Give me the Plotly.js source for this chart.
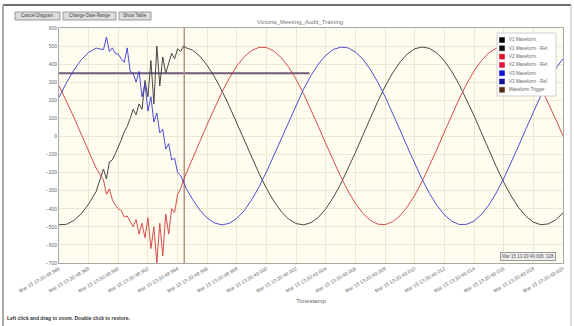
<!DOCTYPE html>
<html>
<head>
<meta charset="utf-8">
<script src="https://cdn.plot.ly/plotly-3.0.1.min.js"></script>
<style>html,body{margin:0;padding:0;background:#fff;}#chart{width:574px;height:326px;}</style>
</head>
<body>
<div id="chart"></div>
<script>
// time in ms after Mar 15 13:20:48.986
const timeMs = [0,0.5,1,1.5,2,2.5,
  3.0,3.2,3.4,3.6,3.8,4.0,4.2,4.4,4.6,4.8,5.0,5.2,5.4,5.6,5.8,6.0,6.2,6.4,6.6,6.8,7.0,7.2,7.4,7.6,7.8,8.0,8.2,8.4,8.6,
  9,9.5,10,10.5,11,11.5,12,12.5,13,13.5,14,14.5,15,15.5,16,16.5,17,17.5,18,18.5,19,19.5,20,20.5,21,21.5,22,22.5,23,23.5,24,24.5,25,25.5,26,26.5,27,27.5,28,28.5,29,29.5,30,30.5,31,31.5,32,32.5,33,33.5,34];
const v1Waveform = [-488,-486,-465,-428,-374,-306,
  -180,-235,-140,-130,-95,-60,-20,25,55,100,150,120,180,150,310,220,420,180,500,280,440,350,400,460,430,485,470,500,490,
  478,444,393,328,251,165,72,-23,-117,-206,-288,-359,-416,-458,-482,-489,-477,-447,-400,-338,-264,-179,-88,7,102,193,277,350,411,456,485,495,487,461,418,359,287,205,115,20,-75,-167,-253,-329,-393,-441,-474,-488,-484,-462,-423];
const v2Waveform = [281,198,107,12,-82,-174,
  -240,-320,-290,-350,-380,-400,-410,-445,-440,-470,-500,-460,-540,-480,-560,-450,-620,-500,-700,-480,-660,-430,-540,-400,-420,-320,-290,-240,-200,
  -122,-28,67,160,247,324,390,441,476,493,492,472,435,383,315,236,148,55,-40,-133,-222,-302,-371,-425,-464,-485,-488,-472,-439,-389,-325,-248,-162,-70,25,119,209,291,362,420,463,488,495,484,454,408,347,272,188,97,2];
const v3Waveform = [216,297,367,424,465,489,
  480,550,470,490,460,455,430,410,490,360,350,300,360,220,290,140,220,80,130,20,40,-70,-40,-130,-120,-200,-215,-250,-290,
  -347,-407,-452,-479,-489,-480,-453,-410,-350,-278,-195,-104,-10,84,176,262,337,401,449,481,494,490,467,427,371,301,220,131,37,-58,-151,-238,-316,-382,-434,-469,-487,-486,-468,-431,-379,-312,-233,-146,-53,42,136,225,305,374,430];
const triggerTime = [8.45, 8.45];
const triggerSpan = [-700, 600];
const thresholdTime = [0, 16.9];
const thresholdValue = [350, 350];

const tickMs = [0,2,4,6,8,10,12,14,16,18,20,22,24,26,28,30,32,34];
const tickLabels = ["Mar 15 13:20:48.986","Mar 15 13:20:48.988","Mar 15 13:20:48.990","Mar 15 13:20:48.992",
  "Mar 15 13:20:48.994","Mar 15 13:20:48.996","Mar 15 13:20:48.998","Mar 15 13:20:49.000","Mar 15 13:20:49.002",
  "Mar 15 13:20:49.004","Mar 15 13:20:49.006","Mar 15 13:20:49.008","Mar 15 13:20:49.010","Mar 15 13:20:49.012",
  "Mar 15 13:20:49.014","Mar 15 13:20:49.016","Mar 15 13:20:49.018","Mar 15 13:20:49.020"];
const legendNames = ["V1 Waveform","V1 Waveform - Ref.","V2 Waveform","V2 Waveform - Ref.","V3 Waveform","V3 Waveform - Ref.","Waveform Trigger"];
const legendColors = ["#000000","#111111","#e0102a","#e8103c","#1010d8","#10109a","#5a2a10"];
const buttonLabels = ["Cancel Diagram","Change Date Range","Show Table"];
const chartTitle = "Victoria_Meeting_Audit_Training";
const cursorText = "Mar 15 13:20:49.008, 328";

const font = "Liberation Sans, Arial, sans-serif";
const L = 59, R = 563, T = 28, B = 263;
const X = px => (px - L) / (R - L);
const Y = py => (B - py) / (B - T);

const traces = [
  {x: thresholdTime, y: thresholdValue, mode: 'lines', line: {color: '#6e5a78', width: 2}, showlegend: false, hoverinfo: 'skip'},
  {x: triggerTime, y: triggerSpan, mode: 'lines', line: {color: '#b8907e', width: 1.5}, showlegend: false},
  {x: timeMs, y: v1Waveform, mode: 'lines', line: {color: '#333333', width: 0.9}, name: legendNames[0], showlegend: false},
  {x: timeMs, y: v2Waveform, mode: 'lines', line: {color: '#d03a3a', width: 0.9}, name: legendNames[2], showlegend: false},
  {x: timeMs, y: v3Waveform, mode: 'lines', line: {color: '#3a3ad0', width: 0.9}, name: legendNames[4], showlegend: false}
];

const shapes = [];
const annotations = [];
// outer frame
shapes.push({type:'line', xref:'paper', yref:'paper', x0:X(3), x1:X(571), y0:Y(5), y1:Y(5), line:{color:'#707070', width:2}});
shapes.push({type:'line', xref:'paper', yref:'paper', x0:X(3), x1:X(3), y0:Y(5), y1:Y(326), line:{color:'#909090', width:1.5}});
shapes.push({type:'line', xref:'paper', yref:'paper', x0:X(571), x1:X(571), y0:Y(5), y1:Y(326), line:{color:'#c0c0c0', width:1}});
// buttons
const btn = [[15,60],[63,116],[119,151]];
buttonLabels.forEach((t, i) => {
  shapes.push({type:'rect', xref:'paper', yref:'paper', x0:X(btn[i][0]), x1:X(btn[i][1]), y0:Y(12), y1:Y(20),
    fillcolor:'#dcdcdc', line:{color:'#9a9a9a', width:1}});
  annotations.push({xref:'paper', yref:'paper', x:X((btn[i][0]+btn[i][1])/2), y:Y(16), text:t, showarrow:false,
    font:{family:font, size:4.5, color:'#444'}, xanchor:'center', yanchor:'middle'});
});
// legend
shapes.push({type:'rect', xref:'paper', yref:'paper', x0:X(497), x1:X(556), y0:Y(33), y1:Y(96),
  fillcolor:'#ffffff', line:{color:'#cfcfcf', width:1}});
legendNames.forEach((n, i) => {
  const cy = 40 + i * 8.3;
  shapes.push({type:'rect', xref:'paper', yref:'paper', x0:X(499.5), x1:X(504.5), y0:Y(cy-2.5), y1:Y(cy+2.5),
    fillcolor:legendColors[i], line:{color:legendColors[i], width:0.5}});
  annotations.push({xref:'paper', yref:'paper', x:X(507), y:Y(cy), text:n, showarrow:false,
    font:{family:font, size:4.5, color:'#666'}, xanchor:'left', yanchor:'middle'});
});
// cursor readout
annotations.push({xref:'paper', yref:'paper', x:X(556), y:Y(256), text:cursorText, showarrow:false,
  font:{family:font, size:4.5, color:'#555'}, xanchor:'right', yanchor:'middle',
  bgcolor:'#eeeeee', bordercolor:'#999', borderwidth:1, borderpad:1});
// help text
annotations.push({xref:'paper', yref:'paper', x:X(5), y:Y(318), text:'<b>Left click and drag to zoom. Double click to restore.</b>',
  showarrow:false, font:{family:font, size:5, color:'#333'}, xanchor:'left', yanchor:'middle'});

const layout = {
  width: 574, height: 326,
  margin: {l: L, r: 574 - R, t: T, b: 326 - B},
  paper_bgcolor: '#ffffff',
  plot_bgcolor: '#fffdf0',
  showlegend: false,
  title: {text: chartTitle, font: {family: font, size: 6, color: '#777'}, x: 300/574, xanchor: 'center', y: 1 - 22/326, yanchor: 'middle', yref: 'container'},
  xaxis: {
    range: [0, 34], tickvals: tickMs, ticktext: tickLabels, tickangle: -30,
    tickfont: {family: font, size: 5, color: '#666'},
    showgrid: true, gridcolor: '#ece7cf', gridwidth: 1, zeroline: false,
    showline: true, linecolor: '#a8a8a8', linewidth: 1, mirror: true, ticks: '',
    title: {text: 'Timestamp', font: {family: font, size: 6, color: '#666'}, standoff: 6}
  },
  yaxis: {
    range: [-700, 600], dtick: 100, tick0: 0,
    tickfont: {family: font, size: 5, color: '#666'},
    showgrid: true, gridcolor: '#ece7cf', gridwidth: 1, zeroline: false,
    showline: true, linecolor: '#a8a8a8', linewidth: 1, mirror: true, ticks: ''
  },
  shapes: shapes,
  annotations: annotations
};

Plotly.newPlot('chart', traces, layout, {displayModeBar: false, staticPlot: true});
</script>
</body>
</html>
